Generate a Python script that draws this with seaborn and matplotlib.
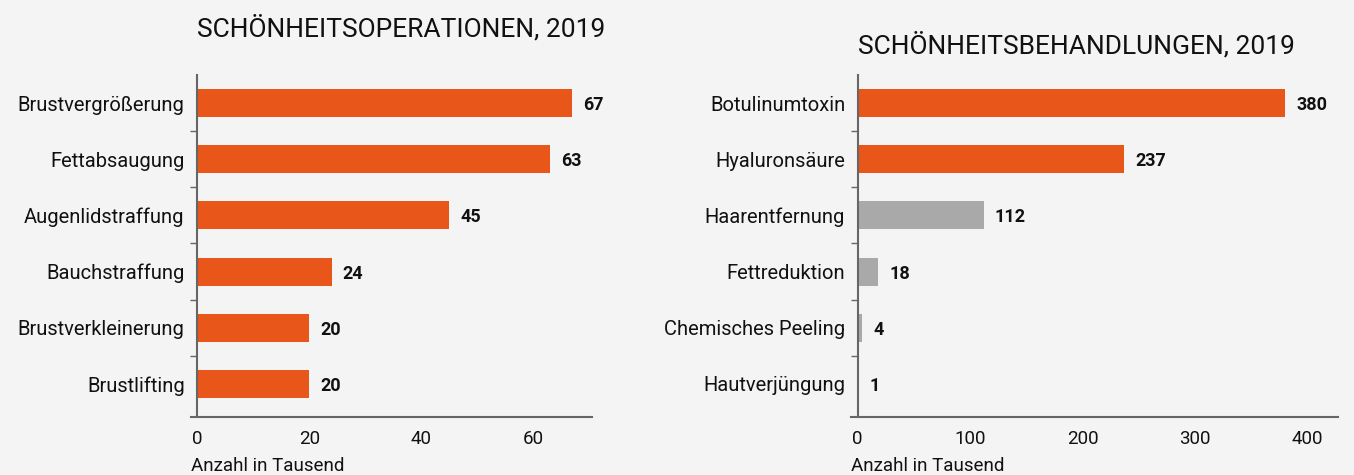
import numpy as np
import pandas as pd
import matplotlib
matplotlib.use("Agg")
import matplotlib.pyplot as plt
import seaborn as sns
from matplotlib.ticker import FixedLocator

sns.set_theme(style="white")
plt.rcParams['font.family'] = ['Roboto', 'DejaVu Sans']

# data ###############################################################
ops_labels = ['Brustvergrößerung', 'Fettabsaugung', 'Augenlidstraffung',
              'Bauchstraffung', 'Brustverkleinerung', 'Brustlifting']
ops_values = [67, 63, 45, 24, 20, 20]

treat_labels = ['Botulinumtoxin', 'Hyaluronsäure', 'Haarentfernung',
                'Fettreduktion', 'Chemisches Peeling', 'Hautverjüngung']
treat_values = [380, 237, 112, 18, 4, 1]

ORANGE = '#e85619'
GREY = '#a9a9a9'
BG = '#f4f4f4'
AX = '#666666'
######################################################################

def panel(ax, labels, values, colors, title, xmin, xmax, ticks, title_y):
    df = pd.DataFrame({'cat': labels, 'val': values})
    sns.barplot(data=df, x='val', y='cat', hue='cat', palette=colors,
                width=0.5, legend=False, ax=ax, saturation=1, linewidth=0)
    ax.set_facecolor(BG)
    ax.set_xlim(xmin, xmax)
    ax.set_ylim(5.59, -0.5)
    ax.set_xticks(ticks)
    ax.set_xticklabels([str(t) for t in ticks], fontsize=13.5, color='#111111')
    ax.tick_params(axis='x', length=6, width=1, color=AX, pad=6, direction='inout')
    ax.tick_params(axis='y', which='major', length=0, pad=9, labelsize=14.5, labelcolor='#111111')
    ax.yaxis.set_minor_locator(FixedLocator(np.arange(0.5, len(labels) - 1, 1.0)))
    ax.tick_params(axis='y', which='minor', length=5, width=1, color=AX, left=True)
    for s in ['top', 'right']:
        ax.spines[s].set_visible(False)
    for s in ['left', 'bottom']:
        ax.spines[s].set_color(AX)
        ax.spines[s].set_linewidth(1.5)
    ax.spines['left'].set_position(('data', 0))
    ax.set_ylabel('')
    ax.set_xlabel('Anzahl in Tausend', fontsize=13.5, color='#111111')
    ax.xaxis.set_label_coords(0.0, -0.118)
    ax.xaxis.label.set_ha('left')
    for i, v in enumerate(values):
        ax.annotate(str(v), xy=(v, i), xytext=(8, -1.5), textcoords='offset points',
                    va='center', ha='left', fontsize=13, fontweight='bold', color='#111111')
    x0 = (0 - xmin) / (xmax - xmin)
    ax.text(x0, title_y, title, transform=ax.transAxes, fontsize=19,
            color='#111111', ha='left', va='center')


fig = plt.figure(figsize=(13.54, 4.75), dpi=100)
fig.patch.set_facecolor(BG)

ax1 = fig.add_axes([0.1411, 0.1221, 0.2961, 0.72])
ax2 = fig.add_axes([0.6285, 0.1221, 0.3597, 0.72])

panel(ax1, ops_labels, ops_values, [ORANGE] * 6,
      'SCHÖNHEITSOPERATIONEN, 2019', -1.1, 70.5, [0, 20, 40, 60], 1.137)
panel(ax2, treat_labels, treat_values, [ORANGE, ORANGE, GREY, GREY, GREY, GREY],
      'SCHÖNHEITSBEHANDLUNGEN, 2019', -6, 427, [0, 100, 200, 300, 400], 1.088)

fig.savefig('out.png', dpi=100, facecolor=BG)
